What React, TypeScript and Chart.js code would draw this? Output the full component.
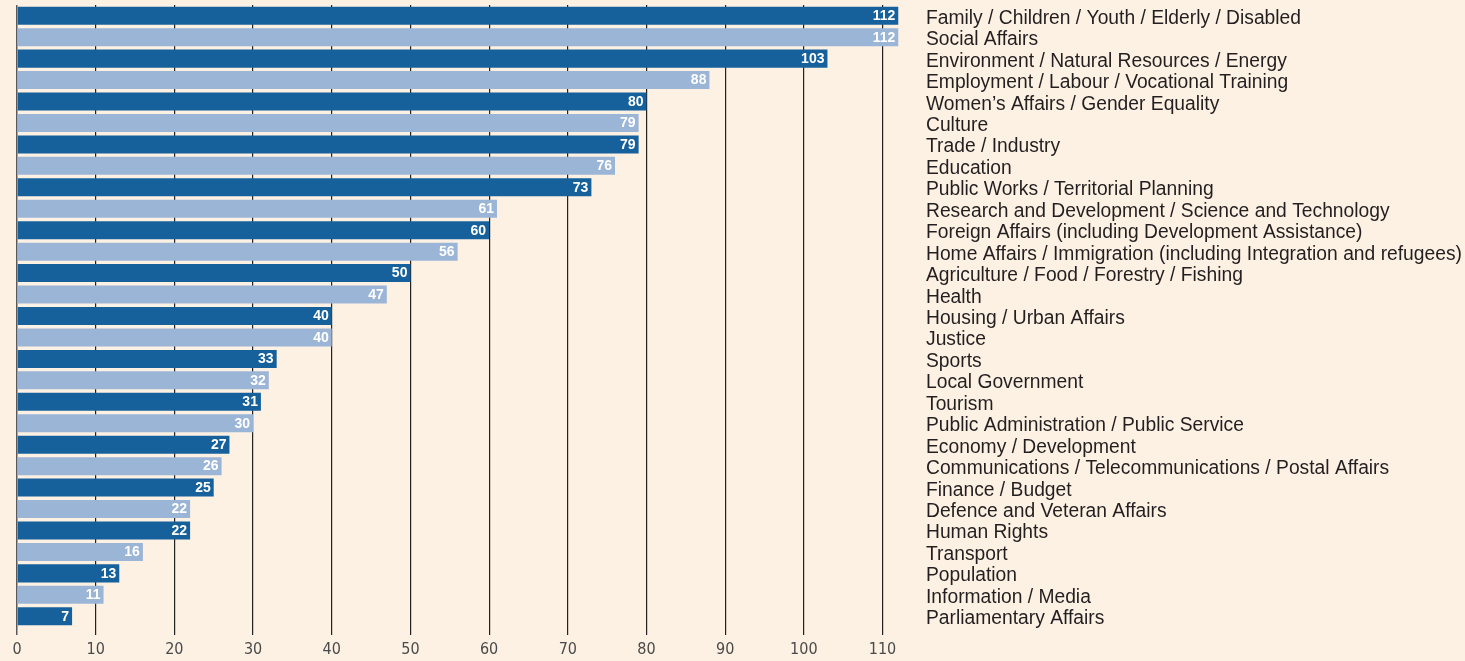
import React, { useEffect, useRef } from "react";
import { Chart, registerables } from "chart.js";

Chart.register(...registerables);

const categories: string[] = [
  "Family / Children / Youth / Elderly / Disabled",
  "Social Affairs",
  "Environment / Natural Resources / Energy",
  "Employment / Labour / Vocational Training",
  "Women’s Affairs / Gender Equality",
  "Culture",
  "Trade / Industry",
  "Education",
  "Public Works / Territorial Planning",
  "Research and Development / Science and Technology",
  "Foreign Affairs (including Development Assistance)",
  "Home Affairs / Immigration (including Integration and refugees)",
  "Agriculture / Food / Forestry / Fishing",
  "Health",
  "Housing / Urban Affairs",
  "Justice",
  "Sports",
  "Local Government",
  "Tourism",
  "Public Administration / Public Service",
  "Economy / Development",
  "Communications / Telecommunications / Postal Affairs",
  "Finance / Budget",
  "Defence and Veteran Affairs",
  "Human Rights",
  "Transport",
  "Population",
  "Information / Media",
  "Parliamentary Affairs",
];

const values: number[] = [
  112, 112, 103, 88, 80, 79, 79, 76, 73, 61, 60, 56, 50, 47, 40, 40, 33, 32, 31,
  30, 27, 26, 25, 22, 22, 16, 13, 11, 7,
];

const xTickValues: number[] = [0, 10, 20, 30, 40, 50, 60, 70, 80, 90, 100, 110];

const TICK_FONT = "'DejaVu Sans Condensed', 'Liberation Sans Narrow', 'Noto Sans', sans-serif";
const LABEL_FONT = "20px 'Liberation Sans', Arial, sans-serif";
const LONGEST_LABEL_WIDTH = 536;
const BG = "#fdf1e4";
const DARK = "#16619b";
const LIGHT = "#9bb5d7";

const valueLabels = {
  id: "valueLabels",
  afterDatasetsDraw(chart: any) {
    const ctx = chart.ctx;
    const meta = chart.getDatasetMeta(0);
    ctx.save();
    ctx.fillStyle = "#ffffff";
    ctx.font = "bold 14px 'Liberation Sans', Arial, sans-serif";
    ctx.textAlign = "right";
    ctx.textBaseline = "middle";
    meta.data.forEach((bar: any, i: number) => {
      ctx.fillText(String(values[i]), bar.x - 3, bar.y + 0.5);
    });
    ctx.restore();
  },
};

const categoryLabels = {
  id: "categoryLabels",
  afterDraw(chart: any) {
    const ctx = chart.ctx;
    const yScale = chart.scales.y;
    const left = chart.chartArea.right + 12;
    ctx.save();
    ctx.font = LABEL_FONT;
    let maxW = 0;
    categories.forEach((c) => {
      maxW = Math.max(maxW, ctx.measureText(c).width);
    });
    const f = LONGEST_LABEL_WIDTH / maxW;
    ctx.fillStyle = "#231f20";
    ctx.textAlign = "left";
    ctx.textBaseline = "middle";
    categories.forEach((c, i) => {
      const y = yScale.getPixelForValue(i);
      ctx.save();
      ctx.translate(left, y + 2.5);
      ctx.scale(f, 1);
      ctx.fillText(c, 0, 0);
      ctx.restore();
    });
    ctx.restore();
  },
};

export default function App() {
  const canvasRef = useRef<HTMLCanvasElement | null>(null);

  useEffect(() => {
    document.body.style.margin = "0";
    document.body.style.background = BG;
    const canvas = canvasRef.current;
    if (!canvas) return;
    const chart = new Chart(canvas, {
      type: "bar",
      data: {
        labels: categories,
        datasets: [
          {
            data: values,
            backgroundColor: (c: any) => (c.dataIndex % 2 === 0 ? DARK : LIGHT),
            borderWidth: 0,
            barPercentage: 0.84,
            categoryPercentage: 1,
          },
        ],
      },
      options: {
        indexAxis: "y",
        responsive: false,
        animation: false,
        layout: { padding: { top: 5, left: 17, right: 0, bottom: 0 } },
        plugins: {
          legend: { display: false },
          tooltip: { enabled: false },
        },
        scales: {
          x: {
            type: "linear",
            min: 0,
            max: 114,
            afterBuildTicks: (scale: any) => {
              scale.ticks = xTickValues.map((v) => ({ value: v }));
            },
            afterFit: (scale: any) => {
              scale.height = 34;
            },
            ticks: {
              font: { family: TICK_FONT, size: 16 },
              color: "#4a4a4a",
              padding: 5,
            },
            grid: {
              color: (c: any) => (c.tick && c.tick.value === 0 ? "#5a5a5a" : "#222222"),
              lineWidth: (c: any) => (c.tick && c.tick.value === 0 ? 1.5 : 1.2),
              drawTicks: true,
              tickLength: 8,
            },
            border: { display: false },
          },
          y: {
            type: "category",
            position: "right",
            afterFit: (scale: any) => {
              scale.width = 551;
              scale.paddingTop = 0;
              scale.paddingBottom = 0;
            },
            ticks: { display: false },
            grid: { display: false, drawTicks: false },
            border: { display: false },
          },
        },
      },
      plugins: [valueLabels, categoryLabels],
    });
    return () => chart.destroy();
  }, []);

  return (
    <div style={{ width: 1465, height: 661, background: BG }}>
      <canvas ref={canvasRef} width={1465} height={661} style={{ display: "block" }} />
    </div>
  );
}
